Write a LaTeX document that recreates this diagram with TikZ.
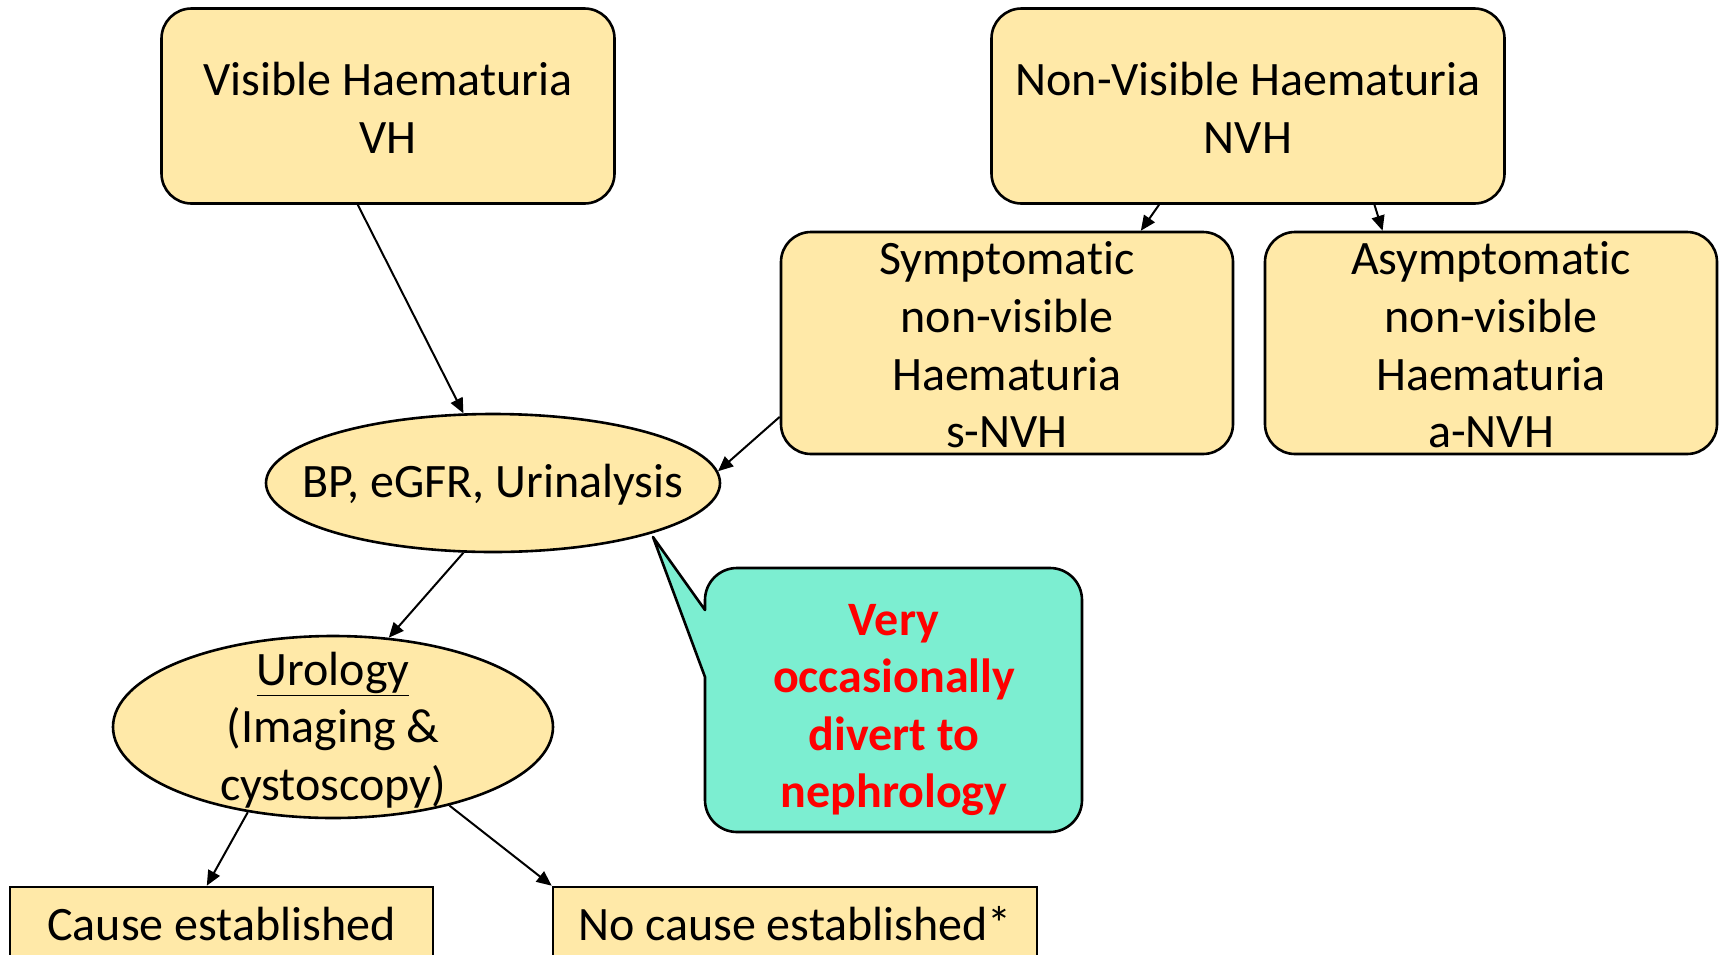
\documentclass[tikz,border=0pt]{standalone}
\usepackage{fontspec}
\setmainfont{Carlito}[RawFeature={-liga;-clig;-dlig;-calt}]
\usetikzlibrary{shapes.geometric,arrows.meta}
\definecolor{boxyellow}{RGB}{255,233,168}
\definecolor{calloutteal}{RGB}{124,238,209}
\begin{document}
\begin{tikzpicture}[x=1pt,y=1pt,
  txt/.style={font=\fontsize{48}{57.6}\selectfont, align=center},
  rbox/.style={draw, line width=2.6pt, fill=boxyellow, rounded corners=30pt, inner sep=0pt},
  sbox/.style={draw, line width=2.6pt, fill=boxyellow, inner sep=0pt},
  oval/.style={draw, line width=2.6pt, fill=boxyellow, ellipse, inner sep=0pt},
  arr/.style={line width=2pt, -{Triangle[length=15pt,width=13pt]}}]
\useasboundingbox (0,0) rectangle (1725,-954);
\clip (0,0) rectangle (1725,-954);

% boxes
\node[rbox, minimum width=453pt, minimum height=195pt] (VH) at (388,-106) {};
\node[txt] (VHt) at ([yshift=-2pt]VH.center) {Visible Haematuria\\VH};
\node[rbox, minimum width=513pt, minimum height=195pt] (NVH) at (1248,-106) {};
\node[txt] (NVHt) at ([yshift=-2pt]NVH.center) {Non-Visible Haematuria\\NVH};
\node[rbox, minimum width=452pt, minimum height=222pt] (SN) at (1007,-343) {};
\node[txt] (SNt) at ([yshift=-2pt]SN.center) {Symptomat\kern0pt ic\\non-visible\\Haematuria\\s-NVH};
\node[rbox, minimum width=452pt, minimum height=222pt] (AN) at (1491,-343) {};
\node[txt] (ANt) at ([yshift=-2pt]AN.center) {Asymptomat\kern0pt ic\\non-visible\\Haematuria\\a-NVH};

% ellipses
\node[oval, minimum width=454pt, minimum height=138pt] (BP) at (493,-483) {};
\node[txt] (BPt) at ([yshift=-2pt]BP.center) {BP, eGFR, Urinalysis};
\node[oval, minimum width=440pt, minimum height=182pt] (UR) at (333,-727) {};
\node[txt] (URt) at ([yshift=-3pt]UR.center) {\underline{Urology}\\(Imaging \&\\cystoscopy)};

% bottom boxes
\node[sbox, txt, minimum width=423pt, minimum height=74pt] (CE) at (221.5,-924) {Cause established};
\node[sbox, txt, minimum width=484pt, minimum height=74pt] (NC) at (795,-924) {No cause established*};

% callout
\draw[line width=2.6pt, fill=calloutteal, line join=round]
  (705,-610) -- (705,-600) arc[start angle=180,end angle=90,radius=32]
  -- (1050,-568) arc[start angle=90,end angle=0,radius=32]
  -- (1082,-800) arc[start angle=0,end angle=-90,radius=32]
  -- (737,-832) arc[start angle=270,end angle=180,radius=32]
  -- (705,-677) -- (653,-537) -- cycle;
\node[txt, text=red, font=\fontsize{48}{57.6}\selectfont\bfseries] (CO) at (894,-710) {Very\\occasionally\\divert to\\nephrology};

% connectors
\draw[arr] (VH.-107) -- (BP.113.5);
\draw[arr] (NVH.-132) -- (SN.40.5);
\draw[arr] (NVH.-38.8) -- (AN.134.2);
\draw[arr] (SN.-162.3) -- (BP.3.5);
\draw[arr] (BP.-113.2) -- (UR.58.9);
\draw[arr] (UR.-135.4) -- (CE.111.4);
\draw[arr] (UR.-34.3) -- (NC.north west);
\end{tikzpicture}
\end{document}
